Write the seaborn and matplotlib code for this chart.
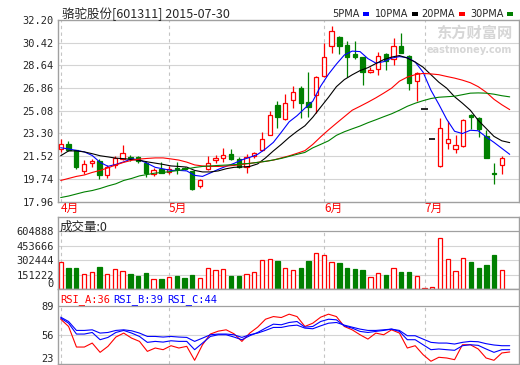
import numpy as np
import pandas as pd
import matplotlib
matplotlib.use("Agg")
import matplotlib.pyplot as plt
from matplotlib.patches import Rectangle
import seaborn as sns

# Daily candles (58 sessions, Apr - Jul 2015)
opens = [22.11, 22.50, 21.97, 20.34, 20.97, 21.11, 20.00, 20.79, 21.32, 21.45,
         21.45, 20.97, 20.14, 20.48, 20.27, 20.62, 20.60, 20.32, 19.14, 20.53,
         21.24, 21.40, 21.66, 21.32, 20.66, 21.50, 21.97, 23.15, 25.57, 24.47,
         25.96, 26.90, 25.75, 26.35, 27.82, 30.15, 30.89, 30.23, 29.52, 29.27,
         28.09, 28.32, 29.52, 29.11, 30.15, 29.37, 27.42, 25.25, 22.89, 20.71,
         22.58, 22.11, 22.29, 24.78, 24.51, 23.07, 20.20, 20.79]
closes = [22.50, 22.03, 20.66, 20.87, 21.13, 20.06, 20.66, 21.37, 21.79, 21.40,
          21.11, 20.19, 20.45, 20.22, 20.53, 20.48, 20.50, 18.96, 19.61, 20.97,
          21.37, 21.58, 21.32, 20.66, 21.45, 21.77, 22.89, 24.78, 24.59, 25.72,
          26.56, 25.69, 25.38, 27.74, 29.27, 31.33, 30.18, 29.31, 29.31, 28.09,
          28.27, 29.37, 28.99, 30.15, 29.63, 27.22, 28.01, 25.25, 22.89, 23.76,
          22.84, 22.37, 24.33, 24.59, 23.68, 21.40, 20.15, 21.37]
highs = [22.84, 22.70, 21.99, 21.24, 21.32, 21.26, 20.79, 21.50, 22.37, 21.58,
         21.52, 21.11, 20.61, 21.05, 20.71, 21.05, 20.70, 20.35, 19.74, 21.50,
         21.57, 22.18, 22.05, 21.45, 21.71, 21.88, 23.41, 25.04, 25.83, 26.43,
         27.03, 27.03, 28.13, 27.79, 30.37, 31.75, 30.95, 30.57, 30.55, 29.27,
         28.53, 29.66, 29.58, 30.76, 31.15, 29.45, 28.13, 25.25, 22.89, 24.54,
         24.25, 23.15, 24.46, 24.86, 24.59, 23.55, 20.97, 21.50]
lows = [21.84, 21.92, 20.50, 20.14, 20.66, 19.74, 19.82, 20.61, 21.19, 21.13,
        20.97, 19.87, 19.93, 20.19, 20.14, 20.14, 20.40, 18.88, 19.01, 20.40,
        20.97, 21.05, 21.19, 20.60, 20.19, 21.37, 21.92, 23.15, 23.76, 24.33,
        25.33, 24.54, 24.59, 24.91, 27.69, 29.58, 29.50, 27.74, 29.13, 27.09,
        28.01, 27.87, 28.27, 28.66, 29.58, 26.69, 25.83, 25.25, 22.89, 20.66,
        22.11, 21.76, 22.23, 23.68, 23.02, 21.40, 19.35, 20.14]

# moving averages as shown on the chart
ma5 = [22.18, 22.08, 21.97, 21.85, 21.57, 21.03, 20.72, 20.87, 21.07, 21.31,
       21.23, 20.95, 20.64, 20.52, 20.40, 20.40, 20.36, 20.01, 19.93, 20.20,
       20.48, 20.72, 20.95, 21.23, 21.42, 21.66, 22.09, 22.60, 23.39, 24.21,
       24.69, 25.28, 25.83, 27.01, 27.95, 28.74, 29.45, 29.76, 29.72, 29.17,
       28.82, 28.93, 29.21, 29.33, 29.25, 28.90, 28.11, 26.69, 25.59, 24.41,
       23.47, 23.29, 23.55, 23.51, 23.03, 22.60, 22.13, 21.66]
ma10 = [21.55, 21.93, 21.93, 21.85, 21.71, 21.55, 21.46, 21.36, 21.32, 21.26,
        21.19, 21.07, 20.97, 20.87, 20.75, 20.71, 20.66, 20.40, 20.28, 20.28,
        20.36, 20.53, 20.64, 20.67, 20.71, 20.91, 21.38, 21.93, 22.44, 22.99,
        23.47, 23.90, 24.57, 25.36, 26.14, 26.97, 27.52, 27.90, 28.23, 28.46,
        28.78, 29.09, 29.29, 29.41, 29.21, 28.90, 28.50, 27.91, 27.32, 26.85,
        26.18, 25.67, 25.12, 24.33, 23.70, 23.07, 22.72, 22.58]
ma20 = [19.61, 19.77, 19.93, 20.04, 20.24, 20.40, 20.60, 20.83, 21.03, 21.19,
        21.29, 21.34, 21.38, 21.38, 21.30, 21.21, 21.05, 20.83, 20.75, 20.71,
        20.71, 20.74, 20.79, 20.87, 20.95, 21.03, 21.11, 21.21, 21.38, 21.54,
        21.74, 21.95, 22.44, 23.03, 23.58, 24.10, 24.61, 25.12, 25.43, 25.75,
        26.09, 26.46, 26.85, 27.40, 27.72, 27.91, 28.01, 27.97, 27.91, 27.77,
        27.64, 27.48, 27.28, 26.97, 26.54, 25.98, 25.55, 25.17]
ma30 = [18.27, 18.39, 18.55, 18.71, 18.82, 18.98, 19.18, 19.35, 19.61, 19.77,
        19.97, 20.08, 20.19, 20.24, 20.32, 20.40, 20.52, 20.63, 20.71, 20.75,
        20.79, 20.82, 20.85, 20.91, 20.95, 21.03, 21.11, 21.22, 21.34, 21.50,
        21.66, 21.81, 22.17, 22.44, 22.72, 23.15, 23.43, 23.66, 23.88, 24.14,
        24.37, 24.61, 24.84, 25.12, 25.43, 25.67, 25.87, 26.04, 26.14, 26.18,
        26.22, 26.34, 26.46, 26.48, 26.46, 26.38, 26.26, 26.17]

volume = [278000, 222000, 222000, 153000, 174000, 233000, 153000, 205000, 188000, 156000,
          136000, 170000, 104000, 104000, 125000, 136000, 118000, 146000, 118000, 216000,
          198000, 205000, 136000, 136000, 153000, 174000, 302000, 310000, 292000, 216000,
          198000, 222000, 292000, 372000, 355000, 278000, 271000, 222000, 209000, 198000,
          125000, 163000, 146000, 216000, 177000, 177000, 136000, 14000, 24000, 529000,
          313000, 188000, 323000, 282000, 222000, 250000, 355000, 198000]

rsi_a = [73.6, 65.4, 42.1, 42.1, 46.6, 36.1, 42.9, 53.4, 57.9, 52.2,
         48.5, 37.2, 41.0, 39.1, 43.6, 41.0, 42.9, 27.1, 44.7, 56.8,
         60.1, 61.6, 57.1, 48.5, 57.9, 64.6, 73.6, 76.6, 75.5, 79.3,
         76.6, 65.4, 69.1, 75.9, 79.3, 76.6, 65.4, 61.6, 56.0, 51.1,
         57.9, 56.0, 61.6, 57.9, 41.0, 43.6, 33.5, 26.0, 30.5, 29.7,
         27.8, 44.7, 44.7, 39.9, 29.7, 27.1, 35.4, 36.5]
rsi_b = [74.8, 69.1, 56.8, 56.8, 58.6, 50.4, 53.0, 58.6, 60.9, 57.9,
         54.1, 47.4, 48.5, 47.7, 49.2, 48.5, 48.5, 39.1, 46.6, 54.1,
         56.0, 56.0, 53.4, 50.4, 54.9, 58.6, 63.5, 68.0, 67.3, 69.9,
         71.0, 64.6, 65.4, 71.0, 73.6, 72.9, 66.1, 63.5, 59.8, 58.6,
         59.8, 60.9, 62.4, 59.8, 50.4, 50.4, 44.7, 39.1, 39.9, 39.1,
         38.4, 43.6, 44.7, 44.0, 39.9, 36.1, 39.1, 39.1]
rsi_c = [75.9, 71.0, 60.9, 60.9, 61.6, 57.9, 58.6, 60.9, 61.6, 60.5,
         57.9, 54.1, 54.1, 53.4, 54.1, 53.4, 53.0, 48.5, 52.2, 56.0,
         56.8, 56.8, 56.0, 53.0, 56.0, 57.9, 60.9, 64.3, 64.3, 66.1,
         66.9, 63.5, 62.8, 66.1, 69.1, 69.9, 66.9, 64.6, 62.4, 60.9,
         60.9, 61.6, 62.4, 60.9, 54.9, 54.9, 51.1, 47.4, 46.6, 46.6,
         45.5, 47.4, 48.5, 48.1, 45.9, 44.4, 43.6, 43.6]

month_pos = [0, 14, 34, 47]
month_labels = ["4月", "5月", "6月", "7月"]
price_ticks = [17.96, 19.74, 21.52, 23.30, 25.08, 26.86, 28.64, 30.42, 32.20]
vol_ticks = [0, 151222, 302444, 453666, 604888]
rsi_ticks = [23, 56, 89]

RED, GREEN, BLUE = "#ff0000", "#008000", "#0000ff"
GRID, FRAME, DASH = "#d4d4d4", "#a0a0a0", "#c4c4c4"
MONO = "DejaVu Sans Mono"

sns.set_style("white")
plt.rcParams["font.family"] = ["Noto Sans CJK SC", "DejaVu Sans"]

fig = plt.figure(figsize=(5.2, 3.65), dpi=100)
L, W = 58 / 520, 461 / 520
ax = fig.add_axes([L, 1 - 201.5 / 365, W, 181.5 / 365])
axv = fig.add_axes([L, 1 - 289 / 365, W, 72 / 365])
axr = fig.add_axes([L, 1 - 364 / 365, W, 75 / 365])

n = len(closes)
idx = np.arange(n)
line_x = idx * 58 / 57

# --- price panel ---
for t in price_ticks[1:-1]:
    ax.axhline(t, color=GRID, lw=0.8, zorder=0)
for m in month_pos:
    ax.axvline(m, color=DASH, lw=0.8, ls=(0, (3, 3)), zorder=0)

for i in idx:
    o, c, h, l = opens[i], closes[i], highs[i], lows[i]
    col = RED if c > o else (GREEN if c < o else "black")
    if c == o:
        ax.hlines(o, i - 0.4, i + 0.4, color=col, lw=1.2, zorder=3)
        continue
    ax.vlines(i, l, h, color=col, lw=0.9, zorder=2)
    face = "white" if c > o else GREEN
    ax.add_patch(Rectangle((i - 0.28, min(o, c)), 0.56, abs(c - o),
                           facecolor=face, edgecolor=col, lw=0.9, zorder=3))

ma_df = pd.DataFrame({"x": line_x, "5PMA": ma5, "10PMA": ma10,
                      "20PMA": ma20, "30PMA": ma30})
ma_long = ma_df.melt("x", var_name="ma", value_name="price")
sns.lineplot(data=ma_long, x="x", y="price", hue="ma",
             palette={"5PMA": BLUE, "10PMA": "black", "20PMA": RED, "30PMA": GREEN},
             lw=0.8, legend=False, ax=ax, zorder=4)

ax.set_xlim(-0.35, 59.2)
ax.set_ylim(17.96, 32.20)
ax.set_yticks(price_ticks)
ax.set_yticklabels([f"{t:.2f}" for t in price_ticks], fontfamily=MONO, fontsize=7.5)
ax.set_xticks(month_pos)
ax.set_xticklabels(month_labels, color=RED, fontsize=8.5, ha="left")
ax.tick_params(axis="y", length=0, pad=3)
ax.tick_params(axis="x", length=0, pad=0)
ax.set_xlabel("")
ax.set_ylabel("")

ax.text(0.985, 0.975, "东方财富网", transform=ax.transAxes, ha="right", va="top",
        fontsize=11, fontweight="bold", color="#d6d6d6", zorder=0)
ax.text(0.985, 0.865, "eastmoney.com", transform=ax.transAxes, ha="right", va="top",
        fontsize=7, fontweight="bold", color="#d6d6d6", family="DejaVu Sans", zorder=0)

# --- volume panel ---
vmax = 751000
for t in vol_ticks[1:-1]:
    axv.axhline(t, color=GRID, lw=0.8, zorder=0)
axv.axhline(vol_ticks[-1], color=FRAME, lw=0.9, zorder=0)
for m in month_pos:
    axv.axvline(m, ymax=vol_ticks[-1] / vmax, color=DASH, lw=0.8, ls=(0, (3, 3)), zorder=0)
for i in idx:
    up = closes[i] >= opens[i]
    axv.bar(i, volume[i], width=0.56, facecolor="white" if up else GREEN,
            edgecolor=RED if up else GREEN, lw=0.9, zorder=2)
axv.set_xlim(-0.35, 59.2)
axv.set_ylim(0, vmax)
axv.set_yticks(vol_ticks)
axv.set_yticklabels([str(t) for t in vol_ticks], fontfamily=MONO, fontsize=7.5)
axv.get_yticklabels()[0].set_va("bottom")
axv.set_xticks([])
axv.tick_params(axis="y", length=0, pad=3)
axv.text(0.004, 0.86, "成交量:0", transform=axv.transAxes, fontsize=9, va="center")

# --- RSI panel ---
rlo, rhi = 22.9, 107.8
axr.axhline(56, color=GRID, lw=0.8, zorder=0)
axr.axhline(89, color=FRAME, lw=0.9, zorder=0)
for m in month_pos:
    axr.axvline(m, ymax=(89 - rlo) / (rhi - rlo), color=DASH, lw=0.8, ls=(0, (3, 3)), zorder=0)
rsi_df = pd.DataFrame({"x": line_x, "RSI_A": rsi_a, "RSI_B": rsi_b, "RSI_C": rsi_c})
rsi_long = rsi_df.melt("x", var_name="rsi", value_name="val")
sns.lineplot(data=rsi_long, x="x", y="val", hue="rsi",
             palette={"RSI_A": RED, "RSI_B": BLUE, "RSI_C": BLUE},
             lw=0.8, legend=False, ax=axr, zorder=3)
axr.set_xlim(-0.35, 59.2)
axr.set_ylim(rlo, rhi)
axr.set_yticks(rsi_ticks)
axr.set_yticklabels([str(t) for t in rsi_ticks], fontfamily=MONO, fontsize=7.5)
axr.get_yticklabels()[0].set_va("bottom")
axr.set_xticks([])
axr.tick_params(axis="y", length=0, pad=3)
axr.set_xlabel("")
axr.set_ylabel("")
for x0, txt, col in [(0.004, "RSI_A:36", RED), (0.119, "RSI_B:39", BLUE), (0.236, "RSI_C:44", BLUE)]:
    axr.text(x0, 0.855, txt, transform=axr.transAxes, color=col, fontsize=7.5,
             family=MONO, va="center")

for a in (ax, axv, axr):
    for s in a.spines.values():
        s.set_color(FRAME)
        s.set_linewidth(1.0)

# --- header ---
fig.text(62 / 520, 1 - 14 / 365, "骆驼股份[601311] 2015-07-30", fontsize=9, va="center")
for x0, txt, col in [(332, "5PMA", BLUE), (375, "10PMA", "black"),
                     (421, "20PMA", RED), (470, "30PMA", GREEN)]:
    t = fig.text(x0 / 520, 1 - 14 / 365, txt, fontsize=7, va="center", family="DejaVu Sans")
    fig.canvas.draw()
    bb = t.get_window_extent()
    fig.add_artist(Rectangle(((bb.x1 + 4) / 520, 1 - 15.5 / 365), 6 / 520, 3.5 / 365,
                             facecolor=col, edgecolor="none", transform=fig.transFigure))

fig.savefig("out.png", dpi=100)
